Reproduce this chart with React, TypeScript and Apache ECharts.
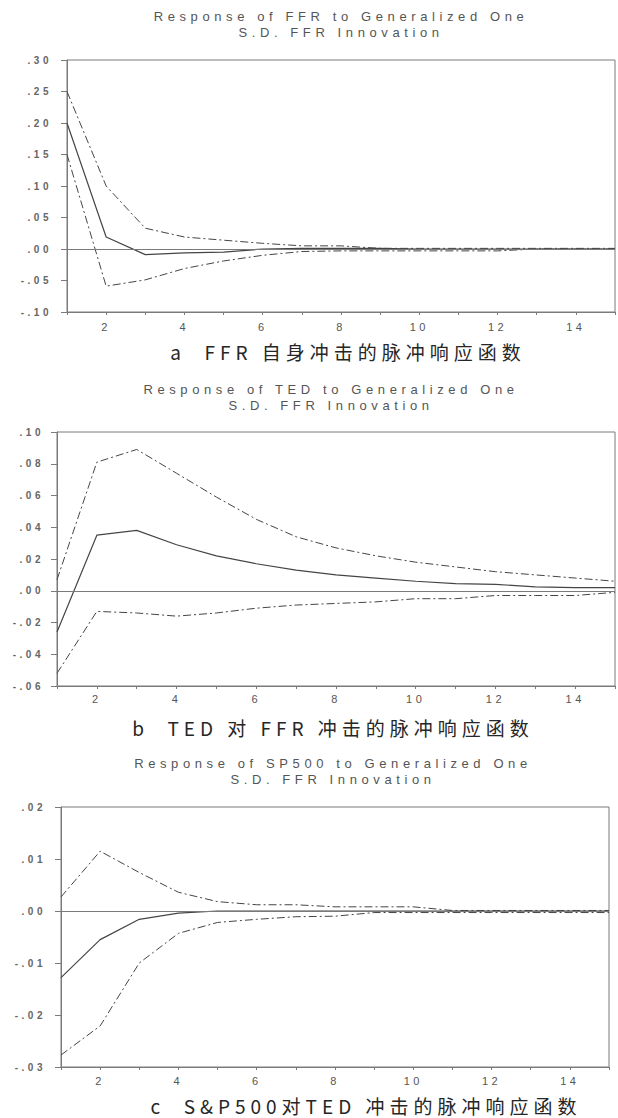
import React, { useEffect, useRef } from "react";
import * as echarts from "echarts";

// ---------- data ----------
const periods = [1, 2, 3, 4, 5, 6, 7, 8, 9, 10, 11, 12, 13, 14, 15];

// a: Response of FFR to FFR
const ffrResp = [0.2, 0.019, -0.009, -0.006, -0.005, 0.0, 0.001, 0.001, 0.001, 0.0, 0.0, 0.0, 0.0, 0.0, 0.0];
const ffrUpper = [0.25, 0.1, 0.033, 0.019, 0.014, 0.009, 0.005, 0.005, 0.001, 0.001, 0.001, 0.001, 0.001, 0.001, 0.001];
const ffrLower = [0.15, -0.059, -0.049, -0.031, -0.019, -0.01, -0.004, -0.003, -0.003, -0.003, -0.003, -0.003, 0.0, 0.0, 0.0];

// b: Response of TED to FFR
const tedResp = [-0.026, 0.035, 0.038, 0.029, 0.022, 0.017, 0.013, 0.01, 0.008, 0.006, 0.0045, 0.004, 0.0025, 0.002, 0.002];
const tedUpper = [0.007, 0.081, 0.089, 0.074, 0.059, 0.045, 0.034, 0.027, 0.022, 0.018, 0.015, 0.012, 0.01, 0.008, 0.006];
const tedLower = [-0.052, -0.013, -0.014, -0.016, -0.014, -0.011, -0.009, -0.008, -0.007, -0.005, -0.005, -0.003, -0.003, -0.003, -0.001];

// c: Response of SP500 to FFR
const spResp = [-0.0128, -0.0055, -0.0016, -0.0004, 0.0, 0.0, 0.0, 0.0, 0.0, 0.0, 0.0, 0.0, 0.0, 0.0, 0.0];
const spUpper = [0.0027, 0.0115, 0.0074, 0.0036, 0.0018, 0.0012, 0.0012, 0.0008, 0.0008, 0.0008, 0.0001, 0.0001, 0.0001, 0.0001, 0.0001];
const spLower = [-0.0277, -0.0221, -0.01, -0.0043, -0.0022, -0.0016, -0.0011, -0.001, -0.0003, -0.0003, -0.0003, -0.0003, -0.0003, -0.0003, -0.0003];

// texts
const titles = [
  "Response of FFR to Generalized One\nS.D. FFR Innovation",
  "Response of TED to Generalized One\nS.D. FFR Innovation",
  "Response of SP500 to Generalized One\nS.D. FFR Innovation",
];
const captions = [
  "a  FFR 自身冲击的脉冲响应函数",
  "b  TED 对 FFR 冲击的脉冲响应函数",
  "c  S&P500对TED 冲击的脉冲响应函数",
];
const yRanges = [
  { min: -0.1, max: 0.3, step: 0.05 },
  { min: -0.06, max: 0.1, step: 0.02 },
  { min: -0.03, max: 0.02, step: 0.01 },
];

const LATIN = "'Liberation Sans', Arial, sans-serif";
const CJK = "'Noto Sans CJK SC', sans-serif";
const LINE = "#454545";
const AXIS = "#7a7a7a";
const TEXT = "#555";

const css = `
.irf text { letter-spacing: 3.5px; }
.irf text[style*="13px"] { letter-spacing: 4.6px; }
.irf text[style*="19px"] { letter-spacing: 5px; }
`;

function fmtY(v: number) {
  let s = v.toFixed(2);
  if (s === "-0.00") s = "0.00";
  return s.replace(/^(-?)0\./, "$1.");
}

export default function App() {
  const ref = useRef<HTMLDivElement>(null);

  useEffect(() => {
    if (!ref.current) return;
    const chart = echarts.init(ref.current, undefined, { renderer: "svg" });

    const series = [
      [ffrResp, ffrUpper, ffrLower],
      [tedResp, tedUpper, tedLower],
      [spResp, spUpper, spLower],
    ];
    const layout = [
      { grid: { left: 67, right: 3, top: 60, height: 252 }, yMargin: 15, xMargin: 9, title: { x: 341, y: 24 }, cap: { x: 348, y: 351 } },
      { grid: { left: 57, right: 2, top: 432, height: 254 }, yMargin: 13, xMargin: 7, title: { x: 331, y: 397 }, cap: { x: 333, y: 727 } },
      { grid: { left: 61, right: 9, top: 807, height: 260 }, yMargin: 15, xMargin: 8, title: { x: 333, y: 771 }, cap: { x: 366, y: 1105 } },
    ];

    const option: any = {
      animation: false,
      backgroundColor: "#fff",
      grid: layout.map((l) => ({
        ...l.grid,
        show: true,
        borderColor: AXIS,
        borderWidth: 1,
        backgroundColor: "transparent",
        containLabel: false,
      })),
      xAxis: layout.map((l, i) => ({
        type: "value",
        gridIndex: i,
        min: 1,
        max: 15,
        interval: 1,
        axisLine: { show: true, onZero: false, lineStyle: { color: AXIS, width: 1 } },
        axisTick: { show: true, length: 3, lineStyle: { color: AXIS } },
        splitLine: { show: false },
        axisLabel: {
          margin: l.xMargin,
          fontSize: 11,
          fontFamily: LATIN,
          color: TEXT,
          formatter: (v: number) => (v % 2 === 0 ? String(v) : ""),
        },
      })),
      yAxis: yRanges.map((r, i) => ({
        type: "value",
        gridIndex: i,
        min: r.min,
        max: r.max,
        interval: r.step,
        axisLine: { show: true, lineStyle: { color: AXIS, width: 1 } },
        axisTick: { show: true, length: 6, lineStyle: { color: AXIS } },
        splitLine: { show: false },
        axisLabel: {
          margin: layout[i].yMargin,
          fontSize: 10,
          fontFamily: LATIN,
          fontWeight: "bold",
          color: "#666",
          formatter: fmtY,
        },
      })),
      series: series.flatMap((set, i) => {
        const [resp, upper, lower] = set;
        const toPts = (arr: number[]) => periods.map((p, k) => [p, arr[k]]);
        const band = (arr: number[]) => ({
          type: "line",
          xAxisIndex: i,
          yAxisIndex: i,
          data: toPts(arr),
          showSymbol: false,
          symbol: "none",
          silent: true,
          lineStyle: { color: LINE, width: 1, type: [8, 3, 2, 3] },
        });
        return [
          {
            type: "line",
            xAxisIndex: i,
            yAxisIndex: i,
            data: toPts(resp),
            showSymbol: false,
            symbol: "none",
            silent: true,
            lineStyle: { color: LINE, width: 1.2 },
            markLine: {
              silent: true,
              symbol: "none",
              label: { show: false },
              lineStyle: { color: AXIS, width: 1, type: "solid" },
              data: [{ yAxis: 0 }],
            },
          },
          band(upper),
          band(lower),
        ];
      }),
      graphic: [
        ...layout.map((l, i) => ({
          type: "text",
          x: l.title.x,
          y: l.title.y,
          style: {
            text: titles[i],
            fill: "#555",
            fontSize: 13,
            fontFamily: LATIN,
            textAlign: "center",
            textVerticalAlign: "middle",
            lineHeight: 16,
          },
        })),
        ...layout.map((l, i) => ({
          type: "text",
          x: l.cap.x,
          y: l.cap.y,
          style: {
            text: captions[i],
            fill: "#262626",
            fontSize: 19,
            fontFamily: CJK,
            textAlign: "center",
            textVerticalAlign: "middle",
          },
        })),
      ],
    };

    chart.setOption(option);
    return () => chart.dispose();
  }, []);

  return (
    <>
      <style>{css}</style>
      <div
        ref={ref}
        className="irf"
        style={{ position: "fixed", left: 0, top: 0, width: 618, height: 1118 }}
      />
    </>
  );
}
